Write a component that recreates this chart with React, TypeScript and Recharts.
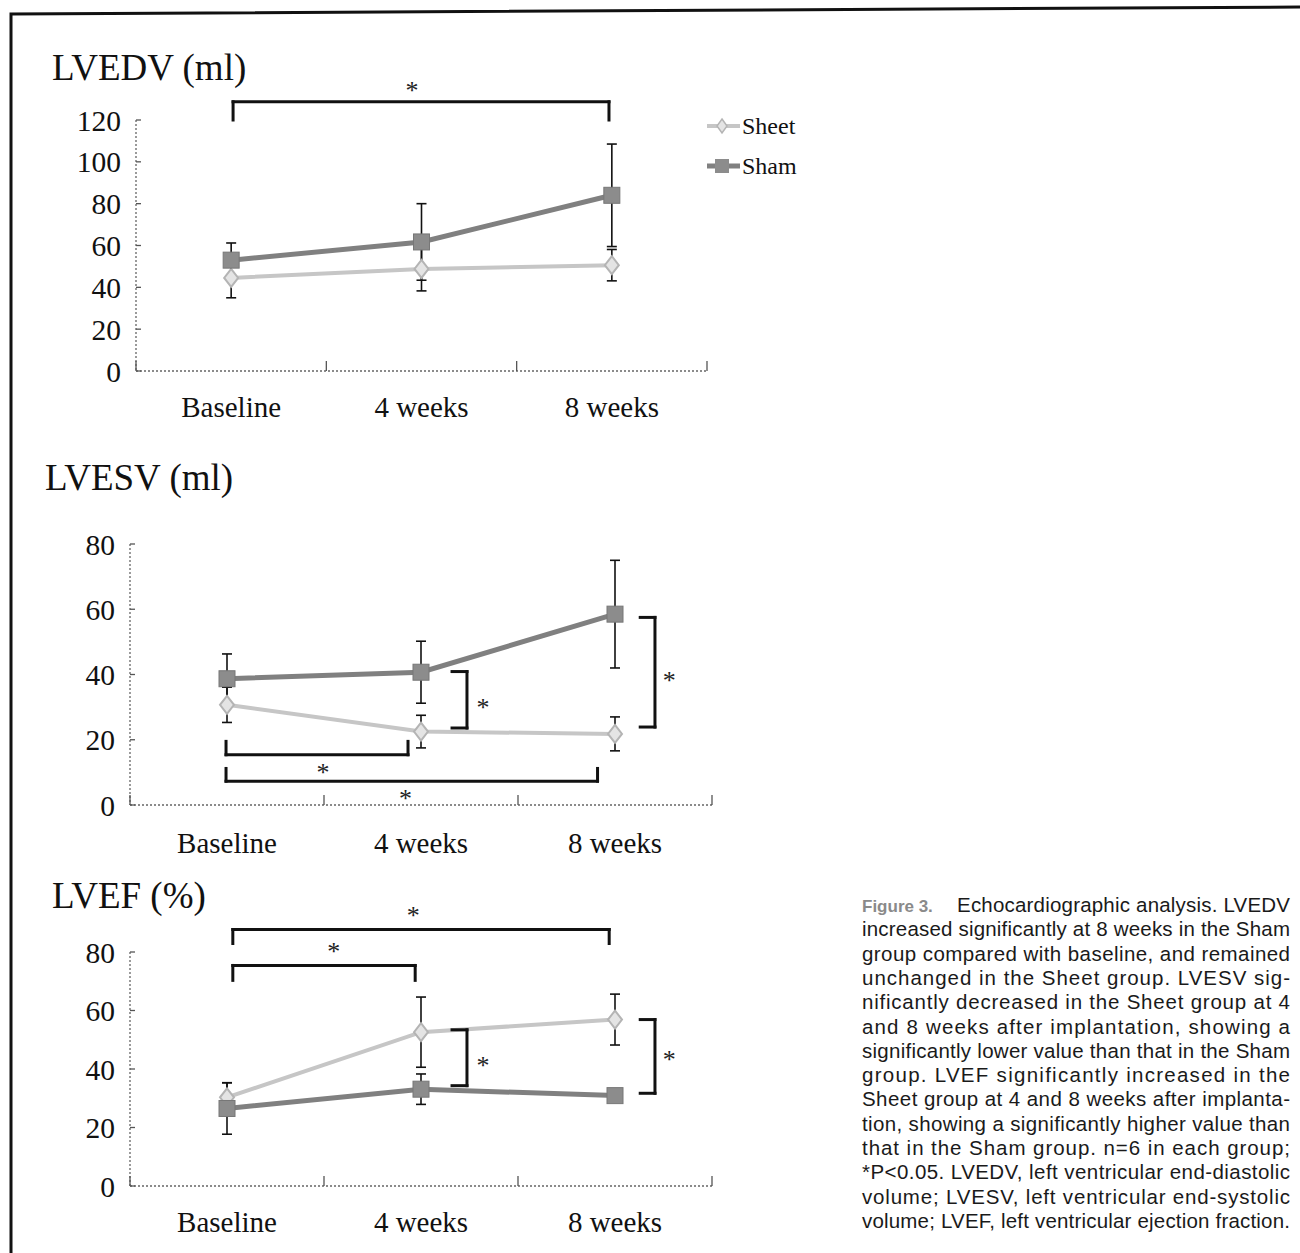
import React from 'react'
import { LineChart, Line, XAxis, YAxis, ErrorBar, ReferenceLine, ReferenceDot } from 'recharts'

const timePoints = ['Baseline', '4 weeks', '8 weeks']
const timeX = [0.5, 1.5, 2.5]
const xTicks = [0, 0.5, 1, 1.5, 2, 2.5, 3]

// LVEDV (ml)
const edvTicks = [0, 20, 40, 60, 80, 100, 120]
const edvSheet = [44.5, 48.8, 50.6]
const edvSheetSd = [9.5, 10.5, 7.5]
const edvSham = [53, 61.7, 84]
const edvShamSd = [8.2, 18.3, 24.5]

// LVESV (ml)
const esvTicks = [0, 20, 40, 60, 80]
const esvSheet = [30.7, 22.5, 21.8]
const esvSheetSd = [5.4, 5, 5.2]
const esvSham = [38.7, 40.7, 58.5]
const esvShamSd = [7.6, 9.5, 16.5]

// LVEF (%)
const efTicks = [0, 20, 40, 60, 80]
const efSheet = [30.3, 52.6, 56.9]
const efSheetSd = [5, 12, 8.7]
const efSham = [26.5, 33.1, 30.9]
const efShamSd = [8.8, 5.2, 1.5]

// significance brackets, in data units (kind h: horizontal bar at y=at, v: vertical bar at x=at)
type Bracket = { kind: 'h' | 'v'; from: number; to: number; at: number; tip: number; starX: number; starY: number }

const edvBrackets: Bracket[] = [
  { kind: 'h', from: 0.51, to: 2.485, at: 128.7, tip: 120, starX: 1.45, starY: 135.5 },
]
const esvBrackets: Bracket[] = [
  { kind: 'v', from: 23.6, to: 40.9, at: 1.737, tip: 1.66, starX: 1.82, starY: 31 },
  { kind: 'v', from: 23.9, to: 57.5, at: 2.706, tip: 2.63, starX: 2.78, starY: 39.2 },
  { kind: 'h', from: 0.495, to: 1.433, at: 15.4, tip: 19.5, starX: 0.995, starY: 11 },
  { kind: 'h', from: 0.495, to: 2.41, at: 7.3, tip: 11.2, starX: 1.42, starY: 3 },
]
const efBrackets: Bracket[] = [
  { kind: 'h', from: 0.53, to: 2.47, at: 87.7, tip: 82.9, starX: 1.46, starY: 93.7 },
  { kind: 'h', from: 0.53, to: 1.47, at: 75.4, tip: 70.3, starX: 1.05, starY: 81.1 },
  { kind: 'v', from: 34.3, to: 53.4, at: 1.737, tip: 1.66, starX: 1.82, starY: 42.3 },
  { kind: 'v', from: 31.7, to: 56.9, at: 2.706, tip: 2.63, starX: 2.78, starY: 44.2 },
]

const captionLines = [
  'increased significantly at 8 weeks in the Sham',
  'group compared with baseline, and remained',
  'unchanged in the Sheet group. LVESV sig-',
  'nificantly decreased in the Sheet group at 4',
  'and 8 weeks after implantation, showing a',
  'significantly lower value than that in the Sham',
  'group. LVEF significantly increased in the',
  'Sheet group at 4 and 8 weeks after implanta-',
  'tion, showing a significantly higher value than',
  'that in the Sham group. n=6 in each group;',
  '*P<0.05. LVEDV, left ventricular end-diastolic',
  'volume; LVESV, left ventricular end-systolic',
  'volume; LVEF, left ventricular ejection fraction.',
]

const SERIF = '"Liberation Serif", "Times New Roman", serif'
const SANS = '"Liberation Sans", Arial, sans-serif'
const CHART_W = 730
const AXIS_H = 70
const SHEET_COLOR = '#c6c6c6'
const SHAM_COLOR = '#808080'
const axisStyle = { stroke: '#666', strokeDasharray: '2 2', strokeWidth: 1.3 }

const SheetDot = (props: any) => {
  const { cx, cy } = props
  if (cx == null || cy == null) return null
  return (
    <polygon
      points={`${cx},${cy - 9} ${cx + 7},${cy} ${cx},${cy + 9} ${cx - 7},${cy}`}
      fill="#e4e4e4"
      stroke="#b4b4b4"
      strokeWidth={2}
    />
  )
}

const ShamDot = (props: any) => {
  const { cx, cy } = props
  if (cx == null || cy == null) return null
  return <rect x={cx - 8} y={cy - 8} width={16} height={16} fill="#8c8c8c" stroke="#777" strokeWidth={1} />
}

const XTick = (props: any) => {
  const { x, y, payload, labelDy } = props
  const v = payload.value
  if (Number.isInteger(v)) {
    return <line x1={x} x2={x} y1={y} y2={y - 10} stroke="#555" strokeWidth={1.3} />
  }
  return (
    <text x={x} y={y + labelDy} textAnchor="middle" fontFamily={SERIF} fontSize={29} fill="#111">
      {timePoints[Math.floor(v)]}
    </text>
  )
}

const YTick = (props: any) => {
  const { x, y, payload } = props
  return (
    <g>
      <line x1={x} x2={x + 5} y1={y} y2={y} stroke="#555" strokeWidth={1.3} />
      <text x={x - 15} y={y} dy="0.36em" textAnchor="end" fontFamily={SERIF} fontSize={29.5} fill="#111">
        {payload.value}
      </text>
    </g>
  )
}

const StarShape = (p: any) => (
  <text x={p.cx} y={p.cy} dy="0.45em" textAnchor="middle" fontFamily={SERIF} fontSize={26} fill="#222">
    *
  </text>
)

function bracketLines(b: Bracket, i: number) {
  const segs =
    b.kind === 'h'
      ? [[b.from, b.at, b.to, b.at], [b.from, b.at, b.from, b.tip], [b.to, b.at, b.to, b.tip]]
      : [[b.at, b.from, b.at, b.to], [b.at, b.from, b.tip, b.from], [b.at, b.to, b.tip, b.to]]
  return segs.map((s, j) => (
    <ReferenceLine
      key={`b${i}-${j}`}
      segment={[{ x: s[0], y: s[1] }, { x: s[2], y: s[3] }]}
      stroke="#111"
      strokeWidth={3}
      strokeLinecap="square"
      ifOverflow="visible"
    />
  ))
}

interface PanelProps {
  top: number
  plotTop: number
  plotBottom: number
  plotLeft: number
  plotRight: number
  yMax: number
  yTicks: number[]
  sheet: number[]
  sheetSd: number[]
  sham: number[]
  shamSd: number[]
  brackets: Bracket[]
  labelDy: number
}

function Panel(p: PanelProps) {
  const data = timeX.map((x, i) => ({
    x,
    sheet: p.sheet[i],
    sheetSd: p.sheetSd[i],
    sham: p.sham[i],
    shamSd: p.shamSd[i],
  }))
  const height = p.plotBottom + AXIS_H - p.top
  return (
    <div style={{ position: 'absolute', left: 0, top: p.top }}>
      <LineChart
        width={CHART_W}
        height={height}
        data={data}
        margin={{ top: p.plotTop - p.top, right: CHART_W - p.plotRight, left: 0, bottom: 0 }}
      >
        <XAxis
          type="number"
          dataKey="x"
          domain={[0, 3]}
          ticks={xTicks}
          interval={0}
          tickLine={false}
          tickSize={0}
          tickMargin={0}
          height={AXIS_H}
          axisLine={axisStyle}
          tick={<XTick labelDy={p.labelDy} />}
        />
        <YAxis
          type="number"
          domain={[0, p.yMax]}
          ticks={p.yTicks}
          interval={0}
          width={p.plotLeft}
          tickLine={false}
          tickSize={0}
          tickMargin={0}
          axisLine={axisStyle}
          tick={<YTick />}
        />
        <Line
          dataKey="sheet"
          stroke={SHEET_COLOR}
          strokeWidth={4}
          dot={<SheetDot />}
          activeDot={false}
          isAnimationActive={false}
        >
          <ErrorBar dataKey="sheetSd" direction="y" width={5} stroke="#111" strokeWidth={1.6} />
        </Line>
        <Line
          dataKey="sham"
          stroke={SHAM_COLOR}
          strokeWidth={5}
          dot={<ShamDot />}
          activeDot={false}
          isAnimationActive={false}
        >
          <ErrorBar dataKey="shamSd" direction="y" width={5} stroke="#111" strokeWidth={1.6} />
        </Line>
        {p.brackets.map(bracketLines)}
        {p.brackets.map((b, i) => (
          <ReferenceDot key={`s${i}`} x={b.starX} y={b.starY} r={0} ifOverflow="visible" shape={StarShape} />
        ))}
      </LineChart>
    </div>
  )
}

export default function App() {
  return (
    <div style={{ position: 'absolute', left: 0, top: 0, width: 1300, height: 1253, background: '#fff', overflow: 'hidden' }}>
      <Panel
        top={30}
        plotTop={120}
        plotBottom={371}
        plotLeft={136}
        plotRight={707}
        yMax={120}
        yTicks={edvTicks}
        sheet={edvSheet}
        sheetSd={edvSheetSd}
        sham={edvSham}
        shamSd={edvShamSd}
        brackets={edvBrackets}
        labelDy={46}
      />
      <Panel
        top={500}
        plotTop={544}
        plotBottom={805}
        plotLeft={130}
        plotRight={712}
        yMax={80}
        yTicks={esvTicks}
        sheet={esvSheet}
        sheetSd={esvSheetSd}
        sham={esvSham}
        shamSd={esvShamSd}
        brackets={esvBrackets}
        labelDy={48}
      />
      <Panel
        top={878}
        plotTop={952}
        plotBottom={1186}
        plotLeft={130}
        plotRight={712}
        yMax={80}
        yTicks={efTicks}
        sheet={efSheet}
        sheetSd={efSheetSd}
        sham={efSham}
        shamSd={efShamSd}
        brackets={efBrackets}
        labelDy={46}
      />
      <svg
        width={1300}
        height={1253}
        style={{ position: 'absolute', left: 0, top: 0, pointerEvents: 'none' }}
      >
        <path d="M11 1253 L11 14 L1300 7" fill="none" stroke="#111" strokeWidth={3} />
        <text x={52} y={80} fontFamily={SERIF} fontSize={37} fill="#111">LVEDV (ml)</text>
        <text x={45} y={490} fontFamily={SERIF} fontSize={37} fill="#111">LVESV (ml)</text>
        <text x={52} y={908} fontFamily={SERIF} fontSize={37} fill="#111">LVEF (%)</text>

        <line x1={707} x2={740} y1={126} y2={126} stroke={SHEET_COLOR} strokeWidth={4} />
        <polygon points="722,119 727,126 722,133 717,126" fill="#e4e4e4" stroke="#b4b4b4" strokeWidth={1.5} />
        <text x={742} y={134} fontFamily={SERIF} fontSize={24} fill="#111">Sheet</text>
        <line x1={707} x2={740} y1={166} y2={166} stroke={SHAM_COLOR} strokeWidth={5} />
        <rect x={715} y={159} width={14} height={14} fill="#8c8c8c" />
        <text x={742} y={174} fontFamily={SERIF} fontSize={24} fill="#111">Sham</text>

        <text x={862} y={912} fontFamily={SANS} fontSize={17} fontWeight="bold" fill="#8a8a8a">Figure 3.</text>
        <text x={957} y={912} fontFamily={SANS} fontSize={20.5} fill="#1a1a1a" textLength={333} lengthAdjust="spacing">
          Echocardiographic analysis. LVEDV
        </text>
        {captionLines.map((line, i) => (
          <text
            key={i}
            x={862}
            y={912 + 24.3 * (i + 1)}
            fontFamily={SANS}
            fontSize={20.5}
            fill="#1a1a1a"
            textLength={428}
            lengthAdjust="spacing"
          >
            {line}
          </text>
        ))}
      </svg>
    </div>
  )
}
